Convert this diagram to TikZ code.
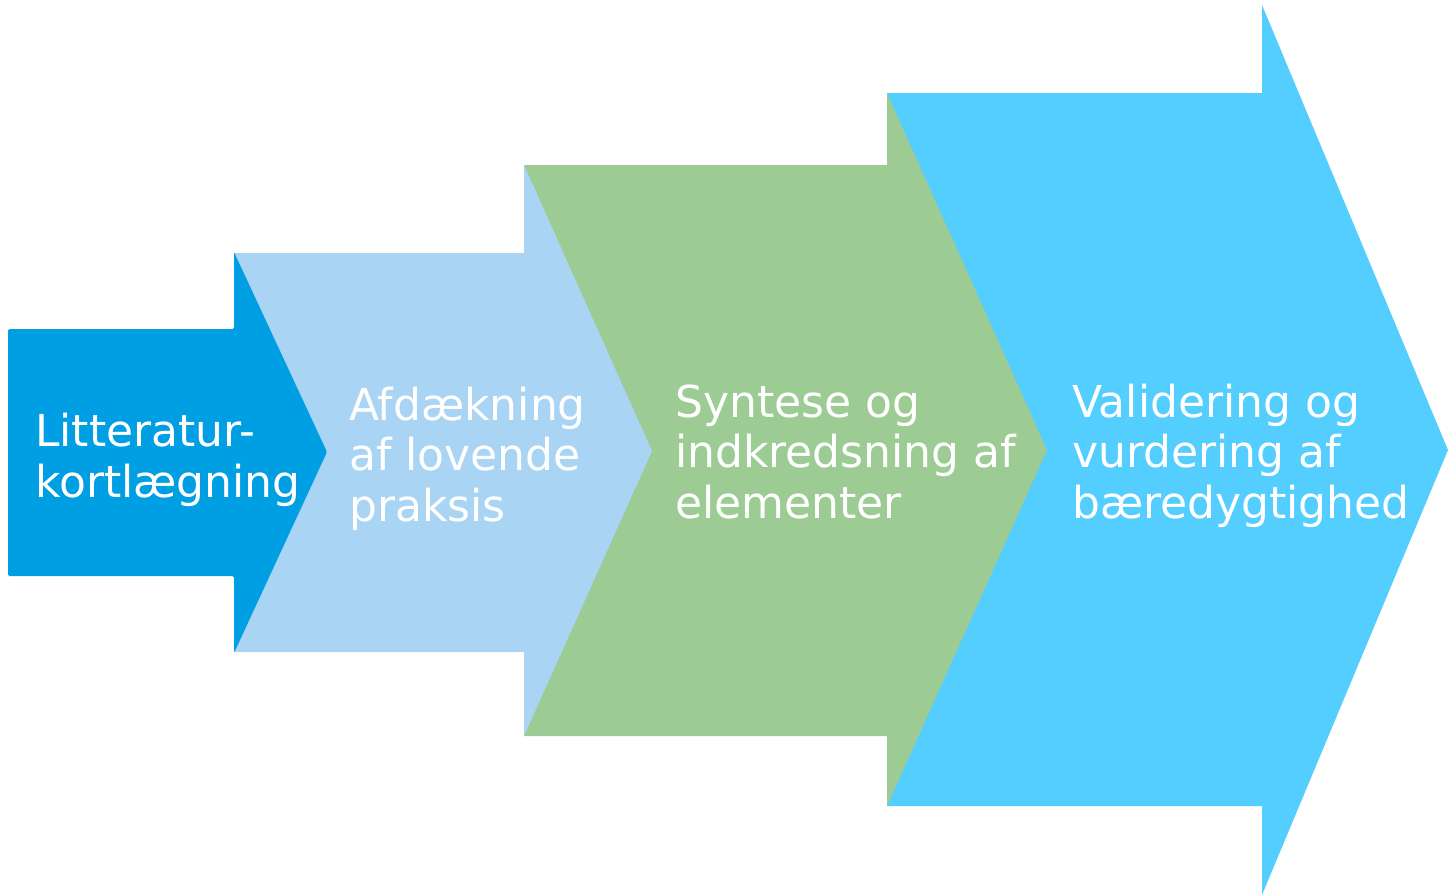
\documentclass[tikz,border=0pt]{standalone}
\usepackage{fontspec}
\setmainfont{DejaVu Sans}
\definecolor{phaseA}{RGB}{0,159,227}
\definecolor{phaseB}{RGB}{169,212,244}
\definecolor{phaseC}{RGB}{157,203,148}
\definecolor{phaseD}{RGB}{84,205,255}

\begin{document}
\begin{tikzpicture}[x=1pt,y=-1pt,
  phasetext/.style={text=white, align=left, anchor=base west, inner sep=0pt,
    font=\fontsize{44}{50.5}\selectfont}]
\useasboundingbox (0,0) rectangle (1448,895);
% last arrow first, each one lies on top of the next
\fill[phaseD] (887,93) -- (1262,93) -- (1262,5) -- (1448,450) -- (1262,895) -- (1262,806) -- (887,806) -- cycle;
\fill[phaseC] (524,165) -- (887,165) -- (887,93) -- (1047,450) -- (887,806) -- (887,736) -- (524,736) -- cycle;
\fill[phaseB] (234,253) -- (524,253) -- (524,165) -- (652,451) -- (524,736) -- (524,652) -- (234,652) -- cycle;
\fill[phaseA, rounded corners=1.5pt] (8,329) -- (234,329) -- (234,252) -- (327,452) -- (234,653) -- (234,576) -- (8,576) -- cycle;
% anchor base sits on the last line
\node[phasetext] (lit) at (35,497) {Litteratur-\\kortlægning};
\node[phasetext] (afd) at (349,521) {Afdækning\\af lovende\\praksis};
\node[phasetext] (syn) at (675,518) {Syntese og\\indkredsning af\\elementer};
\node[phasetext] (val) at (1072,518) {Validering og\\vurdering af\\bæredygtighed};
\end{tikzpicture}
\end{document}
